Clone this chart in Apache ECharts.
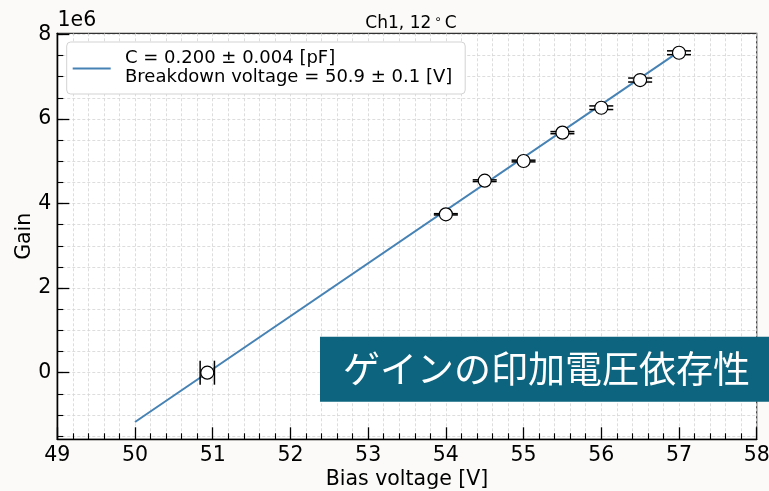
<!DOCTYPE html>
<html>
<head>
<meta charset="utf-8">
<script src="https://cdn.jsdelivr.net/npm/echarts@6/dist/echarts.min.js"></script>
<style>
html,body{margin:0;padding:0;background:#fbfaf8;}
#c{width:769px;height:491px;}
</style>
</head>
<body>
<div id="c"></div>
<script>
// ---- data ----
const voltages  = [50.93, 54.0, 54.5, 55.0, 55.5, 56.0, 56.5, 57.0];
const gains     = [0.0, 3.745e6, 4.54e6, 5.005e6, 5.676e6, 6.265e6, 6.92e6, 7.565e6];
const voltErr   = [0.092, 0, 0, 0, 0, 0, 0, 0];
const gainErr   = [0, 0.015e6, 0.02e6, 0.02e6, 0.025e6, 0.043e6, 0.047e6, 0.045e6];
const fitX      = [50.0, 57.0];
const fitY      = [-1.167e6, 7.59e6];
const yMajorTicks = [0, 2e6, 4e6, 6e6, 8e6];
const yMinorTicks = [-1.5e6, -1e6, -0.5e6, 0, 0.5e6, 1e6, 1.5e6, 2e6, 2.5e6, 3e6, 3.5e6, 4e6, 4.5e6, 5e6, 5.5e6, 6e6, 6.5e6, 7e6, 7.5e6, 8e6];
const legendLines = ['C = 0.200 ± 0.004 [pF]', 'Breakdown voltage = 50.9 ± 0.1 [V]'];
const bannerText = 'ゲインの印加電圧依存性';

const FONT = 'DejaVu Sans';
const pts = voltages.map((v, i) => [v, gains[i], voltErr[i], gainErr[i]]);
const fitData = fitX.map((x, i) => [x, fitY[i]]);

const chart = echarts.init(document.getElementById('c'), null, {renderer: 'canvas'});
const CAP = 12;
const gridDash = {color: '#d4d4d4', width: 0.8, type: [3, 2]};

const yCommon = {
  type: 'value', min: -1.575e6, max: 8.025e6, position: 'left', offset: 0,
  axisLine: {show: true, lineStyle: {color: '#000', width: 1.3}}
};

chart.setOption({
  backgroundColor: '#fbfaf8',
  animation: false,
  title: {
    text: '{a|Ch1, 12}{s|∘}{a|C}',
    left: 406, top: 9, textAlign: 'center',
    textStyle: {
      fontWeight: 'normal',
      rich: {
        a: {fontFamily: FONT, fontSize: 17, fontWeight: 'normal', color: '#000'},
        s: {fontFamily: FONT, fontSize: 12, fontWeight: 'normal', color: '#000', padding: [0, 3, 8, 3]}
      }
    }
  },
  grid: {
    left: 57.3, right: 12.3, top: 33.3, bottom: 51.7,
    show: true, backgroundColor: '#ffffff', borderColor: '#333', borderWidth: 1.2,
    outerBoundsMode: 'none', containLabel: false
  },
  xAxis: {
    type: 'value', min: 49, max: 58, interval: 1,
    name: 'Bias voltage [V]', nameLocation: 'middle', nameGap: 30, nameMoveOverlap: false,
    nameTextStyle: {fontFamily: FONT, fontSize: 20.5, color: '#000'},
    axisLine: {show: true, onZero: false, lineStyle: {color: '#000', width: 1.3}},
    axisTick: {show: true, inside: true, length: 12, lineStyle: {color: '#000', width: 1.3}},
    minorTick: {show: true, splitNumber: 5, length: 6, lineStyle: {color: '#000', width: 1.1}},
    axisLabel: {fontFamily: FONT, fontSize: 20.5, color: '#000', margin: 6, showMinLabel: true, showMaxLabel: true, hideOverlap: false},
    splitLine: {show: true, lineStyle: gridDash},
    minorSplitLine: {show: true, lineStyle: gridDash}
  },
  yAxis: [
    Object.assign({}, yCommon, {
      name: 'Gain', nameLocation: 'middle', nameGap: 22, nameRotate: 90, nameMoveOverlap: false,
      nameTextStyle: {fontFamily: FONT, fontSize: 20.5, color: '#000'},
      axisTick: {show: true, inside: true, length: 12, customValues: yMajorTicks, lineStyle: {color: '#000', width: 1.3}},
      axisLabel: {show: true, customValues: yMajorTicks, fontFamily: FONT, fontSize: 20.5, color: '#000', margin: 6,
        formatter: v => String(Math.round(v / 1e6))},
      splitLine: {show: false}
    }),
    Object.assign({}, yCommon, {
      axisTick: {show: true, inside: true, length: 6, customValues: yMinorTicks, lineStyle: {color: '#000', width: 1.1}},
      axisLabel: {show: false},
      splitLine: {show: true, lineStyle: gridDash}
    })
  ],
  series: [
    {
      type: 'line', data: fitData, xAxisIndex: 0, yAxisIndex: 0,
      showSymbol: false, symbol: 'none', z: 2,
      lineStyle: {color: '#4682b4', width: 2}
    },
    {
      type: 'custom', data: pts, xAxisIndex: 0, yAxisIndex: 0, z: 3,
      renderItem: function (params, api) {
        const x = api.value(0), y = api.value(1), ex = api.value(2), ey = api.value(3);
        const st = {stroke: '#000', lineWidth: 1.5};
        const ch = [];
        if (ex > 0) {
          const l = api.coord([x - ex, y]), r = api.coord([x + ex, y]);
          ch.push({type: 'line', shape: {x1: l[0], y1: l[1], x2: r[0], y2: r[1]}, style: st});
          ch.push({type: 'line', shape: {x1: l[0], y1: l[1] - CAP, x2: l[0], y2: l[1] + CAP}, style: st});
          ch.push({type: 'line', shape: {x1: r[0], y1: r[1] - CAP, x2: r[0], y2: r[1] + CAP}, style: st});
        }
        if (ey > 0) {
          const b = api.coord([x, y - ey]), t = api.coord([x, y + ey]);
          ch.push({type: 'line', shape: {x1: b[0], y1: b[1], x2: t[0], y2: t[1]}, style: st});
          ch.push({type: 'line', shape: {x1: b[0] - CAP, y1: b[1], x2: b[0] + CAP, y2: b[1]}, style: st});
          ch.push({type: 'line', shape: {x1: t[0] - CAP, y1: t[1], x2: t[0] + CAP, y2: t[1]}, style: st});
        }
        return {type: 'group', children: ch};
      }
    },
    {
      type: 'scatter', data: pts.map(p => [p[0], p[1]]), xAxisIndex: 0, yAxisIndex: 0, z: 4,
      symbol: 'circle', symbolSize: 13,
      itemStyle: {color: '#ffffff', borderColor: '#000', borderWidth: 1.2, opacity: 1}
    }
  ],
  graphic: [
    {type: 'text', left: 57.5, top: 10, z: 10,
      style: {text: '1e6', font: '20.5px "DejaVu Sans"', fill: '#000'}},
    {type: 'rect', z: 100, shape: {x: 66.7, y: 42, width: 398.5, height: 52, r: 4},
      style: {fill: '#ffffff', stroke: '#d3d3d3', lineWidth: 1}},
    {type: 'line', z: 101, shape: {x1: 72.7, y1: 68.5, x2: 110.7, y2: 68.5},
      style: {stroke: '#4682b4', lineWidth: 2}},
    {type: 'text', z: 101, x: 125, y: 58, style: {text: legendLines[0], font: '18px "DejaVu Sans"', fill: '#000', verticalAlign: 'middle'}},
    {type: 'text', z: 101, x: 125, y: 77.5, style: {text: legendLines[1], font: '18px "DejaVu Sans"', fill: '#000', verticalAlign: 'middle'}},
    {type: 'rect', z: 100, shape: {x: 320, y: 336.7, width: 460, height: 65}, style: {fill: '#0c647e'}},
    {type: 'text', z: 101, x: 343, y: 369, style: {text: bannerText, font: '37px "Noto Sans CJK JP"', fill: '#ffffff', verticalAlign: 'middle'}}
  ]
});
</script>
</body>
</html>
